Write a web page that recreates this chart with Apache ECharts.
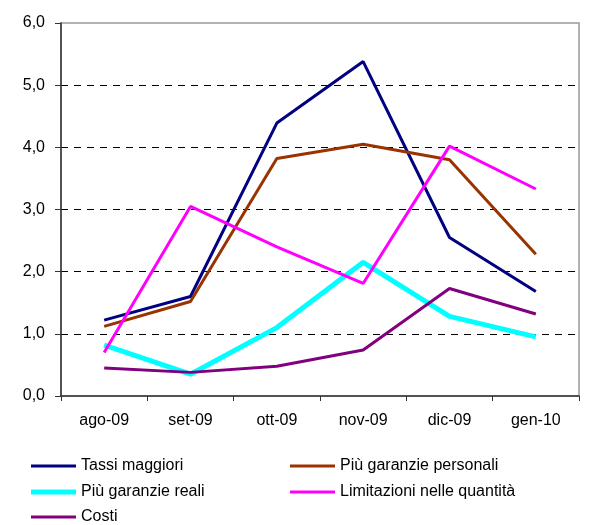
<!DOCTYPE html>
<html>
<head>
<meta charset="utf-8">
<script src="https://cdn.jsdelivr.net/npm/echarts@6/dist/echarts.min.js"></script>
<style>html,body{margin:0;padding:0;background:#fff}#c{width:603px;height:525px}</style>
</head>
<body>
<div id="c"></div>
<script>
const categories = ['ago-09', 'set-09', 'ott-09', 'nov-09', 'dic-09', 'gen-10'];
const tassiMaggiori = [1.22, 1.60, 4.39, 5.38, 2.55, 1.68];
const garanziePersonali = [1.12, 1.52, 3.82, 4.05, 3.80, 2.28];
const garanzieReali = [0.82, 0.35, 1.10, 2.15, 1.28, 0.95];
const limitazioniQuantita = [0.70, 3.05, 2.40, 1.81, 4.02, 3.33];
const costi = [0.45, 0.38, 0.48, 0.74, 1.73, 1.32];
const yTicks = [0, 1, 2, 3, 4, 5, 6];

const seriesDefs = [
  {name: 'Tassi maggiori', data: tassiMaggiori, color: '#000080', width: 3},
  {name: 'Più garanzie personali', data: garanziePersonali, color: '#993300', width: 3},
  {name: 'Più garanzie reali', data: garanzieReali, color: '#00FFFF', width: 5},
  {name: 'Limitazioni nelle quantità', data: limitazioniQuantita, color: '#FF00FF', width: 3},
  {name: 'Costi', data: costi, color: '#800080', width: 3}
];
const legendPos = [
  {left: 31, top: 458}, {left: 290, top: 458},
  {left: 31, top: 484}, {left: 290, top: 484},
  {left: 31, top: 509}
];
const font = 'Arial, "Liberation Sans", sans-serif';

const chart = echarts.init(document.getElementById('c'), null, {renderer: 'canvas'});
chart.setOption({
  animation: false,
  backgroundColor: '#fff',
  grid: {left: 61, top: 23, right: 24, bottom: 129, show: true, borderColor: '#999999', borderWidth: 1.5},
  legend: seriesDefs.map((s, i) => ({
    data: [s.name], left: legendPos[i].left, top: legendPos[i].top,
    icon: 'rect', itemWidth: 45, itemHeight: s.width === 5 ? 5 : 3, itemGap: 0,
    padding: 0, textStyle: {fontFamily: font, fontSize: 16, color: '#000'}
  })),
  xAxis: {
    type: 'category', data: categories, boundaryGap: true,
    axisLine: {lineStyle: {color: '#333', width: 1.5}},
    axisTick: {show: true, length: 5, inside: false, lineStyle: {color: '#333'}},
    axisLabel: {fontFamily: font, fontSize: 16, color: '#000', margin: 17},
    splitLine: {show: false}
  },
  yAxis: {
    type: 'value', min: 0, max: 6, interval: 1,
    axisLine: {show: true, lineStyle: {color: '#333', width: 1.5}},
    axisTick: {show: true, length: 6, lineStyle: {color: '#333'}},
    axisLabel: {fontFamily: font, fontSize: 16, color: '#000', margin: 16,
      formatter: v => yTicks.includes(v) ? v.toFixed(1).replace('.', ',') : ''},
    splitLine: {show: true, showMaxLine: false, showMinLine: false,
      lineStyle: {color: '#000', type: [7, 6], width: 1}}
  },
  series: seriesDefs.map(s => ({
    name: s.name, type: 'line', data: s.data, symbol: 'none', smooth: false,
    itemStyle: {color: s.color},
    lineStyle: {color: s.color, width: s.width}
  }))
});
</script>
</body>
</html>
